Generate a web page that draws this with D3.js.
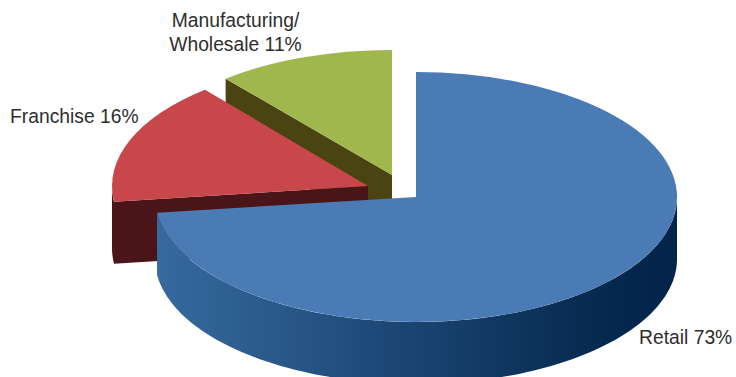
<!DOCTYPE html>
<html>
<head>
<meta charset="utf-8">
<script src="https://cdn.jsdelivr.net/npm/d3@7"></script>
<style>
  html, body { margin: 0; background: #fff; }
  svg { display: block; }
  text { font-family: "Liberation Sans", Arial, sans-serif; fill: #2e2e2e; }
</style>
</head>
<body>
<svg id="chart" width="736" height="377"></svg>
<script>
// Revenue share by channel
const categories = ["Retail", "Franchise", "Manufacturing/Wholesale"];
const shares = [73, 16, 11];
const labelLines = [["Retail 73%"], ["Franchise 16%"], ["Manufacturing/", "Wholesale 11%"]];

// Tilted-disc geometry
const radiiX = [261, 256, 261], ry = 125, depth = 62;
const centers = [[416, 197], [368, 186], [392, 175]];
const topColors = ["#4b7bb5", "#c8474b", "#9fb74c"];
const cutColors = ["#234f80", "#4a1518", "#4a4312"];
const labelAnchors = [[639, 344], [10, 122.5], [235.5, 27]];
const labelAlign = ["start", "start", "middle"];

const svg = d3.select("#chart");

// Shading for the curved rim of the large slice
const defs = svg.append("defs");
const rim = defs.append("linearGradient")
  .attr("id", "rimShade")
  .attr("gradientUnits", "userSpaceOnUse")
  .attr("x1", centers[0][0] - radiiX[0]).attr("x2", centers[0][0] + radiiX[0])
  .attr("y1", 0).attr("y2", 0);
[[0, "#38699f"], [0.14, "#2f6093"], [0.4, "#1f4b7a"], [0.62, "#133a65"], [0.85, "#06294f"], [1, "#02234a"]]
  .forEach(([o, c]) => rim.append("stop").attr("offset", o).attr("stop-color", c));

const pie = d3.pie().sort(null).value(d => d)(shares);
const arc = d3.arc().innerRadius(0).outerRadius(1);
const pointAt = (a, i, drop = 0) => [
  centers[i][0] + radiiX[i] * Math.sin(a),
  centers[i][1] - ry * Math.cos(a) + drop
];
const line = d3.line();

// Each slice: the face of its leading cut, its rim, then its top
function drawSlice(i) {
  const s = pie[i];
  const g = svg.append("g").attr("class", "slice").attr("data-category", categories[i]);

  if (i > 0) {
    const outer = pointAt(s.startAngle, i);
    g.append("path")
      .attr("d", line([
        centers[i], outer,
        [outer[0], outer[1] + depth],
        [centers[i][0], centers[i][1] + depth]
      ]) + "Z")
      .attr("fill", cutColors[i]);
  }

  // Only the part of the rim turned toward the viewer is visible
  const from = Math.max(s.startAngle, Math.PI / 2);
  const to = Math.min(s.endAngle, Math.PI * 1.5);
  if (to > from) {
    const steps = d3.range(0, 121).map(k => from + (to - from) * k / 120);
    const rimPts = steps.map(a => pointAt(a, i))
      .concat(steps.slice().reverse().map(a => pointAt(a, i, depth)));
    g.append("path")
      .attr("d", line(rimPts) + "Z")
      .attr("fill", i === 0 ? "url(#rimShade)" : cutColors[i]);
  }

  g.append("path")
    .attr("transform", `translate(${centers[i]}) scale(${radiiX[i]},${ry})`)
    .attr("d", arc(s))
    .attr("fill", topColors[i]);
}

// Back slices first so the large slice overlaps them
[2, 1, 0].forEach(drawSlice);

const labels = svg.append("g").attr("font-size", 19.3);
labelLines.forEach((lines, i) => {
  lines.forEach((t, k) => {
    labels.append("text")
      .attr("x", labelAnchors[i][0])
      .attr("y", labelAnchors[i][1] + k * 23.5)
      .attr("text-anchor", labelAlign[i])
      .text(t);
  });
});
</script>
</body>
</html>
